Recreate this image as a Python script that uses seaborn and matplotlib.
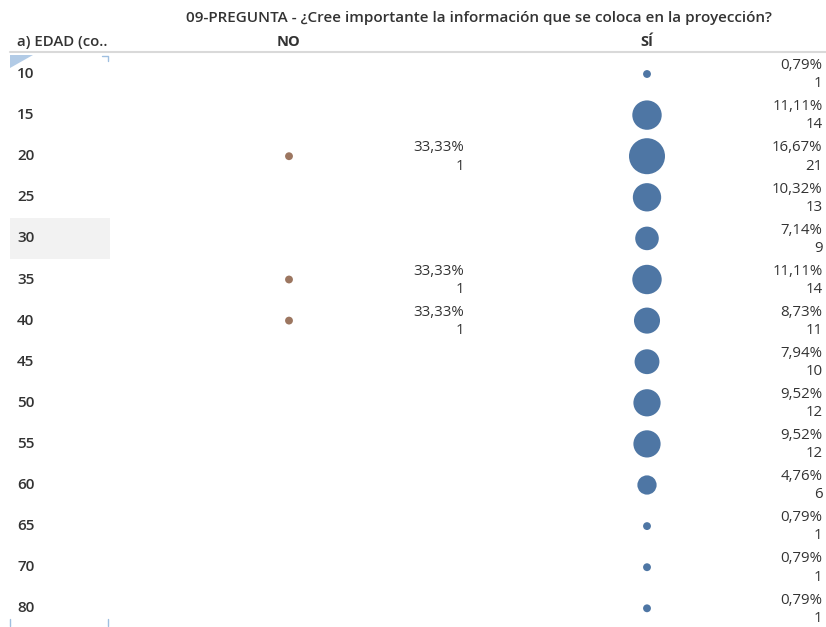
import matplotlib
matplotlib.use("Agg")
import matplotlib.pyplot as plt
import matplotlib.transforms as mtrans
from matplotlib.patches import Rectangle, Polygon
from matplotlib.lines import Line2D
import seaborn as sns
import pandas as pd

ages = ["10", "15", "20", "25", "30", "35", "40", "45", "50", "55", "60", "65", "70", "80"]
si_pct = ["0,79%", "11,11%", "16,67%", "10,32%", "7,14%", "11,11%", "8,73%", "7,94%",
          "9,52%", "9,52%", "4,76%", "0,79%", "0,79%", "0,79%"]
si_count = [1, 14, 21, 13, 9, 14, 11, 10, 12, 12, 6, 1, 1, 1]
no_ages = ["20", "35", "40"]
no_pct = ["33,33%", "33,33%", "33,33%"]
no_count = [1, 1, 1]
columns = ["NO", "SÍ"]
colors = {"NO": "#9c7660", "SÍ": "#4e76a4"}
title = "09-PREGUNTA - ¿Cree importante la información que se coloca en la proyección?"
row_header = "a) EDAD (co.."

rows = []
for a, p, c in zip(no_ages, no_pct, no_count):
    rows.append({"col": "NO", "age": a, "pct": p, "count": c})
for a, p, c in zip(ages, si_pct, si_count):
    rows.append({"col": "SÍ", "age": a, "pct": p, "count": c})
df = pd.DataFrame(rows)
df["x"] = df["col"].map({k: i for i, k in enumerate(columns)})
df["y"] = df["age"].map({k: i for i, k in enumerate(ages)})

sns.set_theme(style="white")
plt.rcParams["font.family"] = ["Open Sans", "DejaVu Sans"]

W, H = 826, 627
fig = plt.figure(figsize=(W / 100, H / 100), dpi=100)
ax_left, ax_right, ax_top, ax_bot = 110, 826, 52, 627
ax = fig.add_axes([ax_left / W, 1 - ax_bot / H, (ax_right - ax_left) / W, (ax_bot - ax_top) / H])

sns.scatterplot(data=df, x="x", y="y", hue="col", palette=colors, size="count",
                sizes=(32, 672), size_norm=(1, 21), linewidth=0, legend=False, ax=ax)

ax.set_xlim(-0.5, 1.5)
y0 = 74
step = 41.1
ax.set_ylim((ax_bot - y0) / step, (ax_top - y0) / step)
for s in ax.spines.values():
    s.set_visible(False)
ax.set_xlabel("")
ax.set_ylabel("")
ax.xaxis.tick_top()
ax.set_xticks(range(len(columns)))
ax.set_xticklabels(columns, fontsize=10.5, fontweight="bold", color="#333333")
ax.tick_params(axis="x", length=0, pad=2)
ax.set_yticks([])

txt_color = "#333333"
for _, r in df.iterrows():
    ax.text(r["x"] + 0.49, r["y"] - 0.2, r["pct"], ha="right", va="center",
            fontsize=10.8, color=txt_color)
    ax.text(r["x"] + 0.49, r["y"] + 0.24, str(r["count"]), ha="right", va="center",
            fontsize=10.8, color=txt_color)

blend = mtrans.blended_transform_factory(fig.transFigure, ax.transData)
# highlighted row
fig.patches.append(Rectangle((10 / W, 3.5), 100 / W, 1.0, transform=blend,
                             facecolor="#f2f2f2", edgecolor="none", zorder=0))
for i, a in enumerate(ages):
    fig.text(17 / W, i, a, transform=blend, ha="left", va="center",
             fontsize=11, fontweight="semibold", color="#333333")

fig.text(17 / W, 1 - 42 / H, row_header, ha="left", va="center", fontsize=10.8,
         fontweight="semibold", color="#333333")
fig.text(479 / W, 1 - 18 / H, title, ha="center", va="center", fontsize=11,
         fontweight="semibold", color="#333333")
fig.lines.append(Line2D([10 / W, 1], [1 - 52 / H, 1 - 52 / H], transform=fig.transFigure,
                        color="#d9d9d9", lw=1.5))
fig.patches.append(Polygon([[10 / W, 1 - 55 / H], [33 / W, 1 - 55 / H], [10 / W, 1 - 68 / H]],
                           closed=True, transform=fig.transFigure, facecolor="#9fbfe0",
                           edgecolor="none", alpha=0.8))
fig.lines.append(Line2D([102 / W, 108 / W, 108 / W], [1 - 56 / H, 1 - 56 / H, 1 - 61 / H],
                        transform=fig.transFigure, color="#9fbfe0", lw=1))
for xp in (10, 108):
    fig.lines.append(Line2D([xp / W, xp / W], [1 - 619 / H, 1 - 626 / H],
                            transform=fig.transFigure, color="#9fbfe0", lw=1))

fig.savefig("out.png", dpi=100)
